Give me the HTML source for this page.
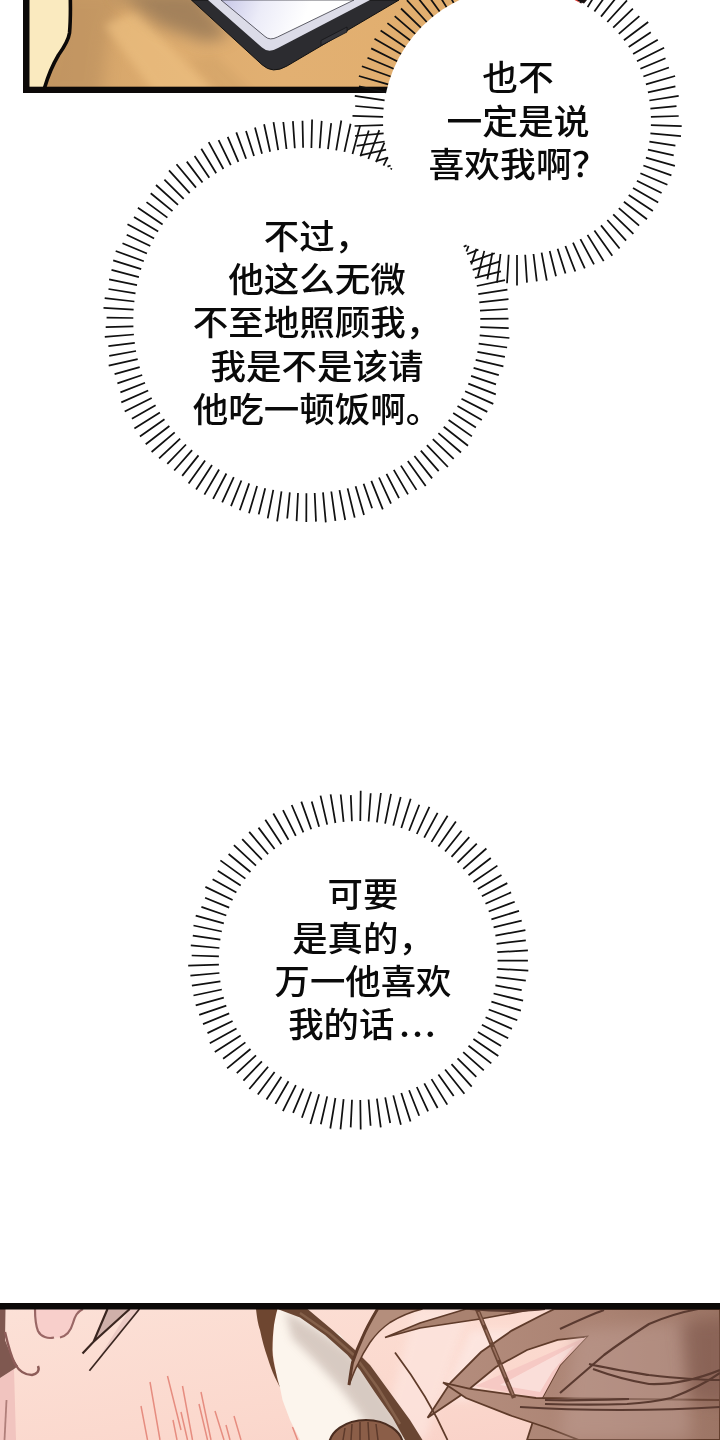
<!DOCTYPE html>
<html lang="zh-CN">
<head>
<meta charset="utf-8">
<title>page</title>
<style>
html,body{margin:0;padding:0;background:#fff;}
body{width:720px;height:1440px;position:relative;overflow:hidden;}
svg.art{position:absolute;left:0;top:0;display:block;}
.t{position:absolute;margin:0;text-align:center;white-space:nowrap;color:#0a0a0a;
  font-family:"Liberation Sans","Noto Sans CJK SC",sans-serif;font-weight:500;}
.t div{margin:0;padding:0;transform:scaleY(0.965);transform-origin:50% 50%;}
#t1{left:117px;width:400px;top:216px;font-size:35.5px;line-height:43.2px;}
#t2{left:318px;width:400px;top:57.3px;font-size:35.8px;line-height:43.2px;}
#t3{left:163px;width:400px;top:874.3px;font-size:35.4px;line-height:43.2px;}
.dots{font-family:"Noto Sans CJK SC",sans-serif;font-weight:500;letter-spacing:2.3px;margin-left:5px;line-height:0;}
</style>
</head>
<body>
<svg class="art" width="720" height="1440" viewBox="0 0 720 1440">
<defs>
<clipPath id="cpTop"><rect x="23" y="0" width="520" height="93"/></clipPath>
<linearGradient id="tanG" x1="0" y1="0" x2="1" y2="0">
<stop offset="0" stop-color="#cd9e66"/><stop offset="0.25" stop-color="#dcab6e"/><stop offset="0.5" stop-color="#e2b072"/><stop offset="1" stop-color="#e1ad6c"/>
</linearGradient>
<linearGradient id="scrG" gradientUnits="userSpaceOnUse" x1="225" y1="0" x2="300" y2="30">
<stop offset="0" stop-color="#c9c9e8"/><stop offset="0.45" stop-color="#ececf8"/><stop offset="1" stop-color="#ffffff"/>
</linearGradient>
<filter id="blur8" x="-50%" y="-50%" width="200%" height="200%"><feGaussianBlur stdDeviation="8"/></filter>
<filter id="blur4" x="-50%" y="-50%" width="200%" height="200%"><feGaussianBlur stdDeviation="4"/></filter>
</defs>
<g id="top" clip-path="url(#cpTop)">
<rect x="23" y="0" width="520" height="93" fill="url(#tanG)"/>
<path d="M60 -10L125 -10L108 40L100 100L35 100Z" fill="#b48a5c" opacity="0.5" filter="url(#blur8)"/>
<path d="M104 25L136 12L222 100L160 100Z" fill="#efc283" opacity="0.6" filter="url(#blur4)"/>
<path d="M190 60L215 55L260 100L225 100Z" fill="#c99b62" opacity="0.35" filter="url(#blur4)"/>
<path d="M112 -10L196 -10L230 36L206 42L160 26Z" fill="#80684f" opacity="0.62" filter="url(#blur8)"/>
<path d="M28 0H70C70.5 12 70.3 24 69.5 33C68.5 40 65 46 58.5 55C52 66 48 76 44 88H28Z" fill="#faeabf"/>
<path d="M70.3 -2C70.6 12 70.3 24 69.5 33C68.5 40 65 46 58.5 55C52 66 48 76 44.5 88" fill="none" stroke="#0c0908" stroke-width="3.6"/>
<path d="M191.4 0L262 64.7Q272.6 74.5 287 66L399 0Z" fill="#2c2c30" stroke="#111" stroke-width="1"/>
<path d="M208 0L262 47.5Q268.5 53.5 278 48L370 0Z" fill="#dcdce8"/>
<path d="M221 0L265 36.5Q270 41 277.5 37L354 0Z" fill="url(#scrG)" stroke="#3a3a44" stroke-width="0.8"/>
<path d="M321 40.5L347 27L347 32L321 45.5Z" fill="#36363b" stroke="#151518" stroke-width="0.8"/>
<rect x="23" y="0" width="6.5" height="93" fill="#0c0908"/>
<rect x="23" y="86.7" width="520" height="6.5" fill="#0c0908"/>
</g>
<path d="M575 0L587 0L584 3.5Z" fill="#1a1212"/>
<path d="M572 0L577 0L582 4L579 3Z" fill="#e0342c"/>

<circle cx="306.8" cy="320.5" r="173.5" fill="#fff"/>
<circle cx="517" cy="121" r="134" fill="#fff"/>
<path d="M133.3 318.0L106.6 317.6M133.6 309.7L103.5 307.8M134.4 301.5L104.7 298.2M135.5 293.3L108.5 289.0M137.0 285.1L109.1 279.3M138.9 277.1L111.5 269.9M141.2 269.1L113.2 260.4M143.8 261.2L115.7 251.0M146.9 253.5L122.5 243.3M150.3 246.0L126.7 234.7M154.1 238.6L127.5 224.3M158.2 231.4L134.0 216.9M162.6 224.4L137.9 207.8M167.4 217.6L146.5 202.1M172.5 211.1L150.7 193.2M178.0 204.8L156.0 185.0M183.7 198.8L164.4 179.7M189.7 193.1L169.0 170.4M196.0 187.6L176.5 164.2M202.5 182.5L186.8 161.6M209.3 177.7L194.6 156.1M216.2 173.2L201.3 148.7M223.4 169.0L208.7 142.1M230.8 165.2L218.6 140.1M238.4 161.8L227.7 136.9M246.1 158.7L236.3 132.4M254.0 156.0L246.0 131.1M262.0 153.7L255.0 127.5M270.1 151.7L264.1 124.2M278.2 150.2L273.5 122.1M286.5 149.0L283.3 122.0M294.8 148.2L292.9 121.1M303.1 147.8L302.5 120.8M311.4 147.9L312.1 119.6M319.7 148.3L321.7 120.9M328.0 149.1L331.2 123.2M336.2 150.3L341.3 120.5M344.4 151.9L350.6 123.8M352.5 153.9L360.1 125.7M360.4 156.3L368.8 130.6M368.3 159.0L379.3 130.1M376.0 162.1L384.4 142.7M383.5 165.6L387.7 157.3M390.9 169.5L391.6 168.2M463.7 246.8L466.6 245.4M467.1 254.3L478.4 249.6M470.1 262.1L494.8 253.2M472.7 269.9L499.5 261.7M474.9 277.9L501.0 271.3M476.8 286.0L505.0 280.2M478.3 294.1L507.4 289.6M479.3 302.3L508.5 299.2M480.0 310.6L507.8 309.0M480.3 318.9L508.5 318.6M480.2 327.1L508.7 328.2M479.7 335.4L509.4 338.0M478.7 343.6L507.1 347.5M477.4 351.8L504.9 356.9M475.7 359.9L503.4 366.4M473.6 367.9L498.8 375.1M471.1 375.8L496.0 384.3M468.3 383.6L495.8 394.4M465.1 391.3L493.3 403.9M461.5 398.7L487.3 411.9M457.5 406.0L481.8 419.9M453.2 413.1L475.9 427.5M448.6 420.0L471.9 436.4M443.7 426.7L468.0 445.7M438.4 433.1L461.0 452.5M432.8 439.2L453.7 458.9M426.9 445.1L447.9 467.0M420.8 450.7L438.7 471.2M414.4 456.0L432.1 478.4M407.8 461.0L425.7 486.0M400.9 465.6L416.5 489.9M393.8 469.9L408.0 494.4M386.5 473.9L399.0 498.2M379.0 477.5L391.0 503.7M371.3 480.8L382.8 509.4M363.6 483.7L372.1 508.3M355.6 486.2L364.0 514.9M347.6 488.4L354.7 517.6M339.5 490.1L345.2 520.0M331.3 491.5L335.4 520.9M323.0 492.4L325.8 522.4M314.7 493.0L316.0 521.6M306.4 493.2L306.3 522.0M298.0 493.0L296.6 521.1M289.8 492.4L287.2 518.5M281.5 491.4L277.1 521.4M273.3 489.9L267.7 518.3M265.2 488.2L258.7 514.4M257.1 486.0L249.0 513.3M249.2 483.4L239.8 510.2M241.4 480.5L231.0 506.2M233.8 477.2L222.2 502.3M226.4 473.5L213.1 498.9M219.1 469.5L204.4 494.6M212.0 465.1L196.1 489.5M205.1 460.5L188.6 483.4M198.5 455.4L182.2 475.9M192.1 450.1L174.2 470.5M186.0 444.5L167.3 463.8M180.2 438.6L159.1 458.4M174.7 432.4L151.6 452.0M169.4 426.0L145.7 444.3M164.5 419.3L139.9 436.5M159.9 412.4L134.4 428.4M155.6 405.3L131.9 418.7M151.7 398.0L124.7 411.5M148.2 390.5L121.3 402.4M145.0 382.8L120.4 392.4M142.2 375.0L117.4 383.3M139.7 367.1L114.6 374.1M137.7 359.1L108.7 365.7M136.0 351.0L109.2 355.8M134.8 342.8L108.4 346.2M133.9 334.5L104.8 336.9M133.4 326.3L105.7 327.2" stroke="#111" stroke-width="1.75" fill="none"/>
<path d="M650.9 125.1L681.7 126.1M650.4 133.4L681.0 136.2M649.4 141.6L675.4 145.6M647.9 149.7L673.7 155.3M645.9 157.7L674.9 165.9M643.4 165.5L671.4 175.4M640.4 173.2L667.4 184.7M636.9 180.7L661.6 193.0M633.0 188.0L658.2 202.5M628.7 195.0L652.9 211.1M623.9 201.8L647.0 219.2M618.8 208.2L639.1 225.6M613.2 214.3L633.4 233.9M607.3 220.0L626.1 240.7M601.0 225.4L619.6 248.5M594.4 230.4L612.3 255.7M587.5 234.9L603.7 261.1M580.4 239.1L594.0 264.4M573.0 242.7L584.8 268.4M565.4 246.0L575.3 271.5M557.6 248.7L565.5 273.6M549.7 251.0L556.0 276.3M541.6 252.7L546.8 280.6M533.5 254.0L536.8 281.4M525.2 254.7L527.0 282.6M517.0 255.0L517.0 285.5M508.7 254.7L507.0 283.3M500.5 254.0L497.0 282.6M492.4 252.7L487.4 279.4M484.3 250.9L477.9 276.3M476.4 248.7L471.3 264.5M468.6 245.9L466.4 251.5M390.6 165.5L387.5 166.6M388.1 157.7L375.9 161.1M386.1 149.7L360.1 155.3M384.6 141.5L356.6 145.9M383.6 133.4L355.0 136.0M383.1 125.1L354.6 126.0M383.1 116.9L352.5 115.9M383.6 108.6L355.2 106.0M384.6 100.4L354.8 95.8M386.1 92.3L359.0 86.4M388.1 84.3L358.9 76.0M390.6 76.5L361.9 66.3M393.6 68.8L367.5 57.7M397.1 61.3L371.2 48.4M401.0 54.0L374.5 38.7M405.3 47.0L380.6 30.6M410.1 40.2L387.4 23.1M415.2 33.8L394.7 16.2M420.8 27.7L401.0 8.5M426.7 22.0L406.9 0.2M433.0 16.6L416.2 -4.3M439.6 11.6L421.9 -13.3M446.5 7.1L432.1 -16.2M453.6 2.9L439.2 -24.0M461.0 -0.7L449.5 -25.8M468.6 -4.0L457.5 -32.7M476.4 -6.7L467.4 -34.8M484.3 -9.0L477.4 -36.6M492.4 -10.7L487.1 -38.8M500.5 -12.0L497.0 -41.0M508.8 -12.7L507.0 -41.6M517.0 -13.0L517.0 -40.6M525.3 -12.7L526.9 -39.7M533.5 -12.0L537.0 -40.3M541.6 -10.7L547.3 -40.9M549.7 -8.9L556.8 -37.2M557.6 -6.7L565.6 -31.8M565.4 -3.9L576.3 -32.0M573.0 -0.7L585.4 -27.6M580.4 3.0L594.9 -24.0M587.6 7.1L601.7 -15.8M594.4 11.6L611.6 -12.6M601.0 16.6L617.5 -3.9M607.3 22.0L627.0 0.4M613.2 27.7L632.9 8.7M618.8 33.8L639.4 16.2M623.9 40.3L648.2 22.0M628.7 47.0L650.8 32.3M633.1 54.0L657.8 39.7M637.0 61.3L664.1 47.8M640.4 68.8L665.5 58.2M643.4 76.5L668.9 67.5M645.9 84.3L675.1 76.0M647.9 92.3L675.4 86.3M649.4 100.5L678.7 95.9M650.4 108.6L676.5 106.2M650.9 116.9L678.7 116.0" stroke="#111" stroke-width="1.75" fill="none"/>
<path d="M218.9 956.3L191.7 955.5M219.4 948.0L190.8 945.4M220.4 939.7L192.8 935.6M221.8 931.5L193.5 925.5M223.8 923.4L195.7 915.7M226.3 915.5L201.4 906.9M229.2 907.6L205.1 897.8M232.6 900.0L205.4 886.9M236.4 892.6L212.6 879.3M240.7 885.5L217.8 870.8M245.4 878.6L220.4 860.4M250.5 872.0L228.6 854.0M256.0 865.7L233.9 845.2M261.9 859.7L242.2 839.2M268.1 854.2L249.2 831.9M274.6 849.0L258.5 827.6M281.4 844.2L265.3 819.8M288.5 839.8L273.3 813.5M295.8 835.8L283.0 810.2M303.4 832.3L291.7 805.0M311.2 829.3L301.3 801.6M319.1 826.7L311.7 801.4M327.2 824.6L320.5 795.6M335.4 823.0L330.6 794.4M343.6 821.9L340.7 794.5M351.9 821.2L350.8 795.1M360.3 821.1L360.7 790.8M368.6 821.5L370.7 793.2M376.9 822.4L380.9 793.0M385.1 823.7L391.0 793.9M393.3 825.6L400.7 797.0M401.3 827.9L410.7 798.8M409.1 830.7L419.3 804.7M416.8 834.0L429.4 806.8M424.2 837.7L437.6 812.9M431.5 841.9L447.6 815.8M438.4 846.5L455.9 821.6M445.1 851.5L461.6 830.8M451.5 856.9L469.3 837.1M457.5 862.7L476.8 843.7M463.2 868.8L486.4 848.5M468.5 875.2L490.8 858.0M473.4 882.0L497.4 865.6M477.9 889.0L501.5 874.9M481.9 896.3L507.3 883.1M485.5 903.8L511.1 892.4M488.7 911.5L514.7 901.8M491.4 919.4L519.0 910.9M493.6 927.4L521.7 920.6M495.4 935.6L525.4 930.1M496.6 943.8L525.8 940.3M497.3 952.2L527.9 950.3M497.6 960.5L527.9 960.5M497.4 968.8L528.3 970.7M496.6 977.1L525.8 980.6M495.4 985.4L521.7 990.2M493.6 993.5L523.1 1000.7M491.4 1001.6L520.9 1010.7M488.7 1009.5L517.3 1020.2M485.6 1017.2L511.9 1028.9M481.9 1024.7L508.2 1038.3M477.9 1032.0L501.1 1045.9M473.4 1039.0L498.3 1056.0M468.5 1045.8L491.3 1063.4M463.2 1052.2L483.8 1070.3M457.5 1058.3L476.3 1076.8M451.5 1064.1L471.7 1086.6M445.1 1069.5L464.4 1093.7M438.4 1074.5L453.7 1096.1M431.5 1079.1L447.3 1104.6M424.3 1083.3L437.6 1108.0M416.8 1087.0L428.1 1111.3M409.1 1090.3L419.2 1115.8M401.3 1093.1L410.5 1121.5M393.3 1095.4L400.9 1124.8M385.2 1097.3L390.2 1123.0M376.9 1098.6L380.8 1127.4M368.6 1099.5L370.6 1125.7M360.3 1099.9L360.7 1129.5M352.0 1099.8L350.7 1127.4M343.6 1099.1L340.5 1129.4M335.4 1098.0L330.3 1128.5M327.2 1096.4L320.8 1124.2M319.1 1094.3L310.4 1124.1M311.2 1091.7L301.9 1117.7M303.4 1088.7L293.1 1112.9M295.9 1085.2L282.9 1111.1M288.5 1081.2L275.4 1103.9M281.4 1076.8L266.5 1099.4M274.6 1072.0L257.8 1094.5M268.1 1066.8L249.3 1089.0M261.9 1061.3L243.4 1080.6M256.0 1055.3L236.8 1073.2M250.5 1049.0L227.1 1068.3M245.4 1042.4L223.1 1058.7M240.7 1035.6L214.8 1052.1M236.5 1028.4L209.8 1043.2M232.6 1021.0L207.5 1033.1M229.2 1013.4L203.0 1024.1M226.3 1005.6L199.2 1014.8M223.8 997.6L195.7 1005.4M221.8 989.5L193.5 995.5M220.4 981.3L191.9 985.6M219.4 973.0L190.4 975.6M218.9 964.7L188.2 965.6" stroke="#111" stroke-width="1.75" fill="none"/>
<defs>
<clipPath id="cpBot"><rect x="0" y="1303" width="720" height="137"/></clipPath>
<linearGradient id="skinG" x1="0" y1="0" x2="1" y2="1">
<stop offset="0" stop-color="#fce1d7"/><stop offset="0.6" stop-color="#fbd8cd"/><stop offset="1" stop-color="#f8cfc6"/>
</linearGradient>
<linearGradient id="hairG" x1="0" y1="0" x2="1" y2="0">
<stop offset="0" stop-color="#b58e7e"/><stop offset="0.6" stop-color="#aa8272"/><stop offset="1" stop-color="#9c7565"/>
</linearGradient>
</defs>
<g id="bottom" clip-path="url(#cpBot)">
<rect x="0" y="1303" width="720" height="137" fill="url(#skinG)"/>
<!-- ear / skin folds on left -->
<path d="M0 1378L14 1369L16 1440L0 1440Z" fill="#f1c4bf"/>
<path d="M0 1309H5.5L5 1340L11 1355L18 1366L14 1369L0 1378Z" fill="#7f5850"/>
<path d="M35 1309C35 1318 36 1326 38 1331C41 1337 48 1339 54 1337.5L60 1337.5C67 1336 71 1330 73 1323C75 1316 77 1312 83 1309Z" fill="#f8cfcb"/>
<path d="M35 1309C35 1318 36 1326 38 1331C41 1337 48 1339 54 1337.5M60 1337.5C67 1336 71 1330 73 1323C75 1316 77 1312 83 1309" fill="none" stroke="#9a6765" stroke-width="2.2"/>
<path d="M5 1332C8 1345 11 1356 15 1364C19 1371 25 1375 32 1375C37 1374 40 1371 38 1366" fill="none" stroke="#8d5c58" stroke-width="2.4"/>
<path d="M6.5 1400L4.5 1440" stroke="#b07f7a" stroke-width="1.8"/>
<!-- hair strands top-left -->
<path d="M129.7 1309L139.4 1309L100 1356Z" fill="#eccbc5"/>
<path d="M107.5 1309L129.7 1309L93.6 1341.7Z" fill="#cfb0aa"/>
<path d="M107.5 1309L93.6 1341.7L82.5 1353.5M129.7 1309L93.6 1341.7" stroke="#3a2620" stroke-width="2.2" fill="none"/><path d="M139.4 1309L89.4 1370.8" stroke="#3a2620" stroke-width="1.7" fill="none"/>
<!-- blush lines -->
<g stroke="#e68d80" stroke-width="1.5" fill="none">
<path d="M150 1382L160 1440M167.5 1376L181 1430M141 1406L147.5 1440M182.5 1386L192.5 1440M201 1392L211 1440M199 1404L207.5 1440M215 1411L224 1440M234 1416L241 1440M181 1412L187.5 1440M292.5 1427L297.5 1440M300 1431L304 1440M173 1420L177 1440M226 1425L230 1440"/>
</g>
<path d="M415 1309L470 1309L425 1440L380 1440Z" fill="#fde6e0" opacity="0.7" filter="url(#blur4)"/>
<!-- eye white -->
<path d="M277 1309L300 1312L340 1335L372 1372L398 1410L416 1440L300 1440L290 1420L282.5 1400L280 1387.5L276 1372.5L272.5 1350L274 1325Z" fill="#fcf5ed"/>
<path d="M285 1311L320 1331L350 1352L372 1376L392 1405L412 1440L376 1440L360 1414L340 1388L316 1362L292 1338Z" fill="#d4c6be" opacity="0.9" filter="url(#blur4)"/>
<!-- iris -->
<ellipse cx="366" cy="1446" rx="37" ry="26" fill="#8b5e48" stroke="#4b2d20" stroke-width="2.2"/>
<path d="M345 1428L343 1440M352 1424L351 1440M360 1422L360 1440M368 1422L369 1440M376 1424L378 1440" stroke="#5d3a2b" stroke-width="1.5" fill="none"/>
<!-- lid band -->
<path d="M277.5 1309L307.5 1309L332.5 1330L355 1350L370 1365L390 1392.5L410 1420L422.5 1440L405 1440L392.5 1417.5L375 1392.5L360 1370L347.5 1355L325 1335L300 1317.5Z" fill="#6a4633"/>
<path d="M300 1313L330 1334L355 1356L378 1388L400 1424" fill="none" stroke="#8b6650" stroke-width="2.5" opacity="0.8"/>
<!-- left lash -->
<path d="M256 1309C257 1318 258 1324 260 1330C262 1340 264.5 1349 267.5 1357.5C270 1365 272 1371 275 1377.5L280 1387.5C278 1382 277 1377 276 1372.5C274 1364 272.5 1357 272.5 1350C272.5 1340 273 1333 274 1325C275 1319 276 1314 277.5 1309Z" fill="#6e4630"/>
<!-- hair mass right -->
<path d="M470 1330L520 1330L470 1400L440 1400Z" fill="#fde8e3" opacity="0.8" filter="url(#blur4)"/>
<path d="M427.6 1417.7L450.6 1382.6L481 1352L511.7 1330.6L542 1315L554.5 1309L720 1309L720 1440L527 1440L535 1415L542 1398L560 1365L586.7 1336.7L557.6 1339.8L527 1350L496 1367L466 1391.7Z" fill="url(#hairG)" stroke="#5f3b2a" stroke-width="1.8"/>
<path d="M586.7 1336.7L560 1365L542 1398L475 1386Z" fill="#f6c9c4"/>
<path d="M575 1345L552 1372L540 1392L500 1385Z" fill="#fbe3df" opacity="0.8"/>
<path d="M443 1382.6L469 1388.7L536 1398L628 1399L720 1400L720 1440L579 1440L548 1428L512 1416L466 1398Z" fill="url(#hairG)" stroke="#5f3b2a" stroke-width="1.8"/>
<path d="M385 1337.5L420 1323L466 1309L535 1309L480 1319L420 1328Z" fill="#a98270" stroke="#5f3b2a" stroke-width="1.6"/>
<path d="M377.5 1309C371 1320 366 1329 362.5 1337.5C358 1347 355 1355 352.5 1362.5C351 1370 350 1378 349 1385C352 1378 354 1371 357.5 1365C361 1357 365 1350 370 1342.5C376 1334 382 1328 390 1322.5C399 1317 410 1312 422.5 1309Z" fill="#b48e7c" stroke="#5f3b2a" stroke-width="1.5"/>
<path d="M377.5 1309C371 1320 366 1329 362.5 1337.5C358 1347 355 1355 352.5 1362.5C351 1370 350 1378 349 1385" fill="none" stroke="#5f3b2a" stroke-width="3"/>
<path d="M395 1352.5C412 1375 432 1405 447.5 1440" fill="none" stroke="#5f3b2a" stroke-width="1.8"/>
<path d="M477 1309L514 1398" fill="none" stroke="#6b4635" stroke-width="4.5"/>
<path d="M478.5 1312L513 1395" fill="none" stroke="#9a7160" stroke-width="1.6" stroke-dasharray="14 5"/>
<path d="M575 1330L690 1320L690 1440L560 1440Z" fill="#c3a299" opacity="0.45" filter="url(#blur8)"/>
<path d="M680 1322L730 1318L730 1405L690 1400Z" fill="#7f584d" opacity="0.6" filter="url(#blur8)"/>
<path d="M560 1329C575 1322 590 1315 604 1310M560 1393C575 1380 590 1367 604 1355C620 1343 635 1333 649 1324C665 1317 682 1312 698 1309M589 1364C610 1369 630 1372 649 1375C675 1378 700 1380 720 1380M593 1369C612 1376 631 1381 649 1384C675 1385 700 1378 720 1370M545 1404C575 1405 600 1405 627 1404C643 1403 658 1401 671 1398C690 1391 706 1383 720 1373M545 1400C575 1401 600 1400 629 1399M520 1407C580 1411 660 1411 720 1407M470 1309C500 1312 530 1311 545 1309" fill="none" stroke="#5a3a30" stroke-width="2.2"/>
<rect x="0" y="1303" width="720" height="6.5" fill="#0c0908"/>
</g>

</svg>
<div class="t" id="t2"><div>也不</div><div>一定是说</div><div>喜欢我啊？</div></div>
<div class="t" id="t1"><div>不过，</div><div>他这么无微</div><div>不至地照顾我，</div><div>我是不是该请</div><div>他吃一顿饭啊。</div></div>
<div class="t" id="t3"><div>可要</div><div>是真的，</div><div>万一他喜欢</div><div>我的话<span class="dots">...</span></div></div>
</body>
</html>
